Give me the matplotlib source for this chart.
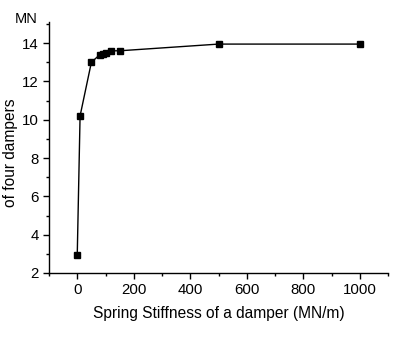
import matplotlib
matplotlib.use("Agg")
from matplotlib import pyplot as plt
from matplotlib.ticker import MultipleLocator

# spring stiffness of a damper (MN/m) vs force of four dampers (MN)
stiffness = [0, 10, 50, 80, 90, 100, 120, 150, 500, 1000]
force = [2.95, 10.2, 13.0, 13.4, 13.45, 13.5, 13.6, 13.6, 13.95, 13.95]

x_ticks = [0, 200, 400, 600, 800, 1000]
y_ticks = [2, 4, 6, 8, 10, 12, 14]

plt.rcParams['font.family'] = ['Liberation Sans', 'DejaVu Sans']

fig = plt.figure(figsize=(4.09, 3.49), dpi=100)
ax = fig.add_axes([0.1198, 0.2178, 0.829, 0.719])

ax.plot(stiffness, force, color='black', linewidth=1.0,
        marker='s', markersize=5, markerfacecolor='black', markeredgecolor='black')

ax.set_xlim(-100, 1100)
ax.set_ylim(2, 15.1)
ax.set_xticks(x_ticks)
ax.set_yticks(y_ticks)
ax.xaxis.set_minor_locator(MultipleLocator(100))
ax.yaxis.set_minor_locator(MultipleLocator(1))
ax.tick_params(which='major', direction='out', length=4, width=1, labelsize=10.8, colors='black')
ax.tick_params(which='minor', direction='out', length=2.5, width=1)

for s in ['top', 'right']:
    ax.spines[s].set_visible(False)
for s in ['left', 'bottom']:
    ax.spines[s].set_linewidth(1.0)

ax.set_xlabel('Spring Stiffness of a damper (MN/m)', fontsize=11.2, labelpad=6)
fig.text(0.026, 0.562, 'of four dampers', rotation=90, fontsize=11.2, ha='center', va='center')
fig.text(0.064, 0.946, 'MN', fontsize=10.5, ha='center', va='center')

fig.savefig('out.png', dpi=100)
